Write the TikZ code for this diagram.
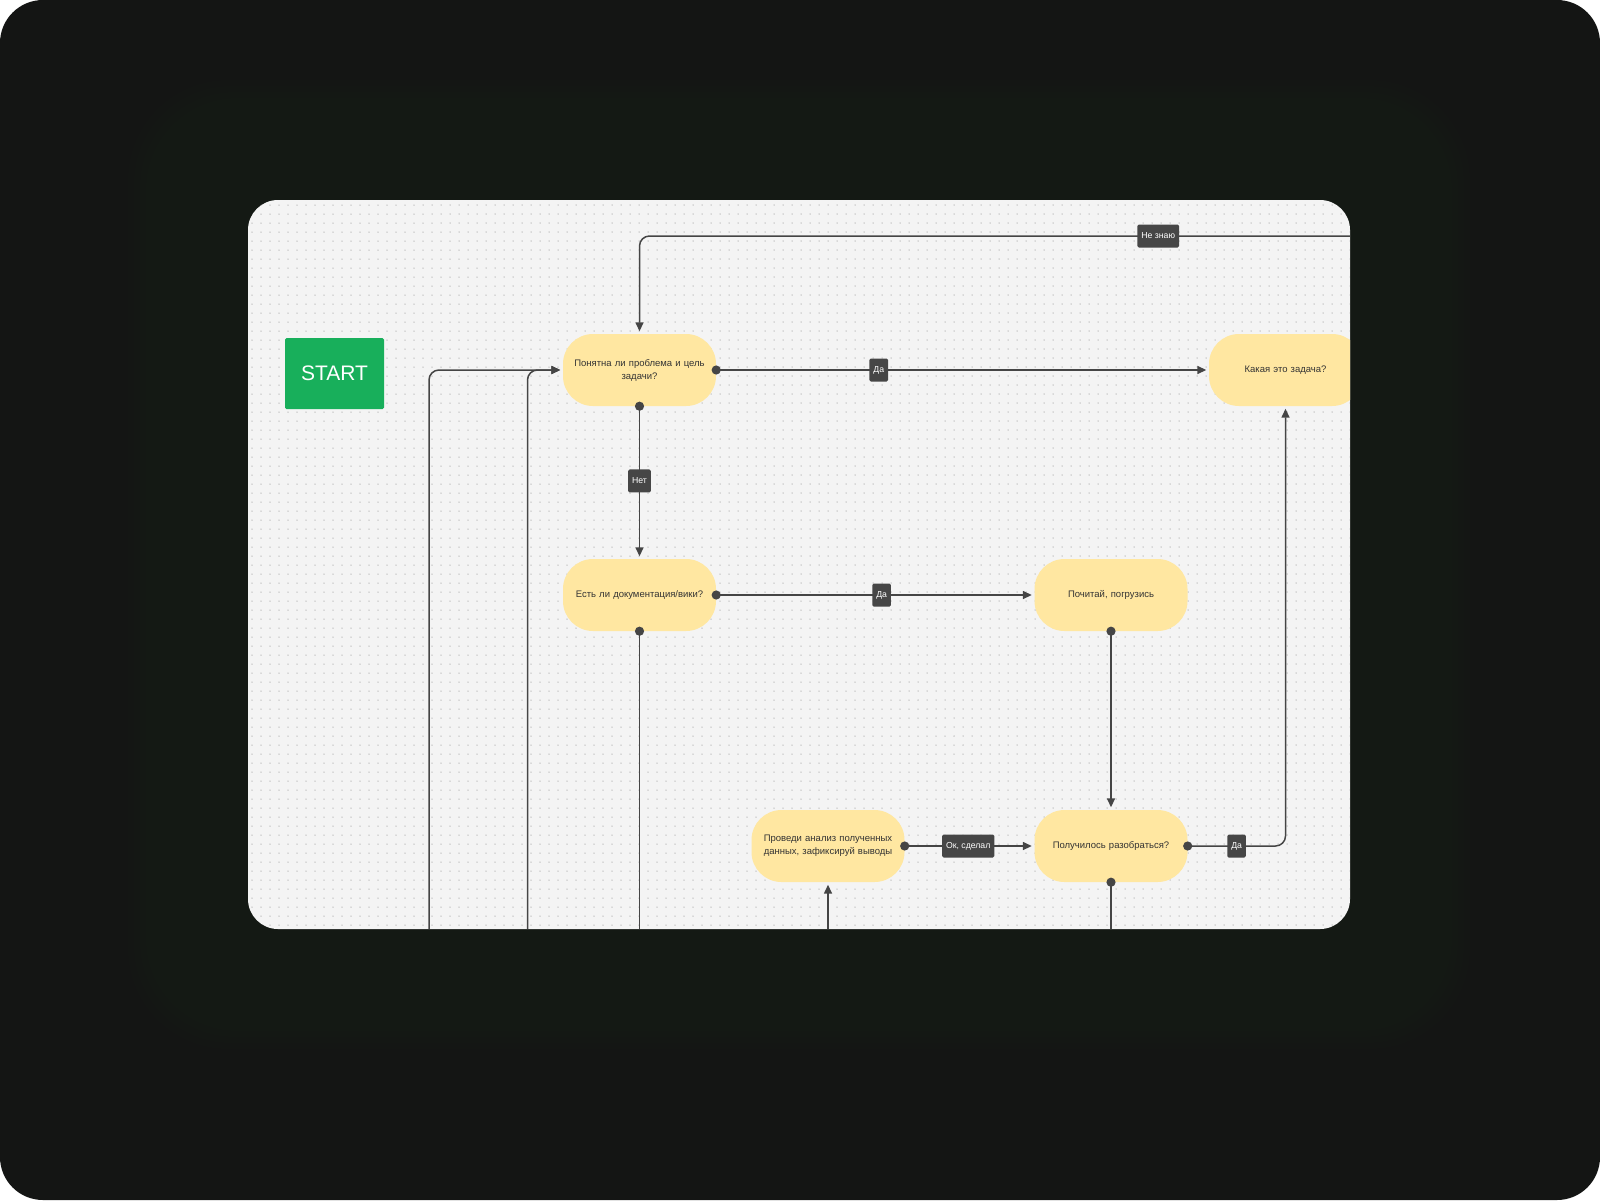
\documentclass[tikz,border=0pt]{standalone}
\usepackage{fontspec}
\setmainfont{Liberation Sans}
\usetikzlibrary{arrows.meta}
\definecolor{bgdark}{HTML}{141514}
\definecolor{glow}{HTML}{1B2C1C}
\definecolor{panel}{HTML}{F4F4F4}
\definecolor{dotc}{HTML}{BDBDBD}
\definecolor{yel}{HTML}{FFE7A1}
\definecolor{ln}{HTML}{454545}
\definecolor{lblbg}{HTML}{464646}
\definecolor{txt}{HTML}{333333}
\definecolor{startg}{HTML}{18AF5B}
\tikzset{
  box/.style={rectangle, rounded corners=30pt, fill=yel, minimum width=153pt, minimum height=72pt,
    text width=135pt, align=center, text=txt, inner sep=0pt, font=\fontsize{9.5}{13}\selectfont},
  lbl/.style={rectangle, rounded corners=1.5pt, fill=lblbg, text=white, minimum height=23pt,
    inner xsep=4pt, inner ysep=0pt, font=\fontsize{8.7}{10}\selectfont},
  conn/.style={draw=ln, line width=1.5pt, rounded corners=10pt},
  arr/.style={conn, -{Triangle[length=9pt,width=8pt]}, shorten >=2.5pt},
  enddot/.style={fill=ln},
}
\begin{document}
\begin{tikzpicture}[x=1pt,y=-1pt]
\useasboundingbox (0,0) rectangle (1600,1200);
\fill[white] (0,0) rectangle (1600,1200);
\fill[bgdark, rounded corners=43pt] (0,0) rectangle (1600,1200);
% glow
\foreach \d in {120,114,...,0}{
  \fill[glow, opacity=0.05, rounded corners=40pt+\d*0.5pt] (248-\d,200-\d) rectangle (1350+\d,929+\d);
}
% panel
\fill[panel, rounded corners=30pt] (248,200) rectangle (1350,929);
\begin{scope}
\clip[rounded corners=30pt] (248,200) rectangle (1350,929);
\foreach \y in {205,214,...,929}{
  \draw[dotc, line width=1.5pt, line cap=round, dash pattern=on 0pt off 9pt] (252,\y) -- (1350,\y);
}
% nodes
\node[rectangle, fill=startg, rounded corners=1.5pt, minimum width=99pt, minimum height=71pt,
  text=white, font=\fontsize{21}{25}\selectfont] (start) at (334.5,373.5) {START};
\node[box] (q1) at (639.5,370) {Понятна ли проблема и цель\\задачи?};
\node[box] (task) at (1285.5,370) {Какая это задача?};
\node[box] (doc) at (639.5,595) {Есть ли документация/вики?};
\node[box] (read) at (1111,595) {Почитай, погрузись};
\node[box] (anl) at (828,846) {Проведи анализ полученных\\данных, зафиксируй выводы};
\node[box] (ok) at (1111,846) {Получилось разобраться?};
% free ends
\coordinate (ne) at (1352,236);
\coordinate (b1) at (429,935);
\coordinate (b2) at (527.5,935);
\coordinate (b3) at (639.5,935);
\coordinate (b4) at (828,935);
\coordinate (b5) at (1111,935);
% connectors
\draw[arr] (ne) -| node[lbl, pos=0.136]{Не знаю} (q1.north);
\draw[arr] (q1.east) -- node[lbl, pos=0.33]{Да} (task.west);
\draw[arr] (q1.south) -- node[lbl, pos=0.49]{Нет} (doc.north);
\draw[arr] (doc.east) -- node[lbl, pos=0.52]{Да} (read.west);
\draw[conn] (doc.south) -- (b3);
\draw[arr] (read.south) -- (ok.north);
\draw[arr] (anl.east) -- node[lbl, pos=0.49]{Ок, сделал} (ok.west);
\draw[arr] (ok.east) -| node[lbl, pos=0.25]{Да} (task.south);
\draw[conn] (ok.south) -- (b5);
\draw[arr] (b4) -- (anl.south);
\draw[arr] (b1) |- (q1.west);
\draw[arr] (b2) |- (q1.west);
% dots at starts
\foreach \p in {q1.east, q1.south, doc.east, doc.south, read.south, anl.east, ok.east, ok.south}{
  \fill[enddot] (\p) circle[radius=4.6pt];
}
\end{scope}
\end{tikzpicture}
\end{document}
